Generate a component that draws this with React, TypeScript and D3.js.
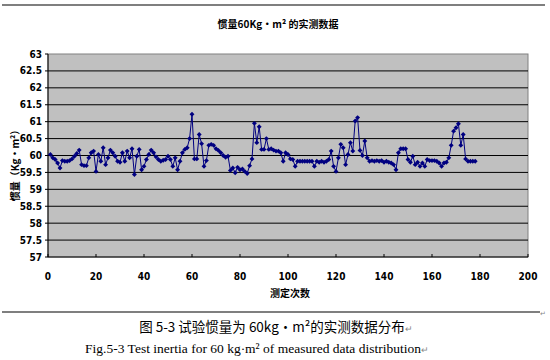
import React from "react";
import * as d3 from "d3";

// measured inertia, runs 1..178
const runs1 = [60.03, 59.93, 59.88, 59.78, 59.63, 59.85, 59.83, 59.83, 59.85, 59.9, 59.98, 60.06, 60.16, 59.73, 59.7, 59.7, 59.93, 60.08, 60.13, 59.53, 60.03, 59.83, 60.23, 59.73, 59.93, 60.16, 60.08, 59.98, 59.83, 59.8, 60.08, 59.83, 60.13, 59.93, 60.2, 59.44, 59.98, 60.18, 59.58, 59.68, 59.88, 60.03, 60.16, 60.08, 59.96, 59.88, 59.83, 59.86];
const runs2 = [59.88, 59.98, 59.88, 59.68, 59.93, 59.58, 59.83, 60.08, 60.18, 60.23, 60.5, 61.22, 59.9, 59.9, 60.62, 60.35, 59.68, 59.85, 60.3, 60.33, 60.3, 60.2, 60.15, 60.08, 60.0, 59.95, 59.98, 59.56, 59.63, 59.49, 59.65, 59.58, 59.6, 59.53, 59.47, 59.7, 59.9, 60.95, 60.38, 60.85, 60.18, 60.18, 60.5, 60.18, 60.2, 60.16, 60.13, 60.13, 60.08, 59.83, 60.08, 60.03];
const runs3 = [59.9, 59.88, 59.68, 59.83, 59.83, 59.83, 59.83, 59.83, 59.83, 59.83, 59.68, 59.83, 59.8, 59.83, 59.8, 59.83, 59.88, 60.13, 59.68, 59.53, 59.93, 60.33, 60.23, 59.73, 60.03, 60.38, 60.13, 61.02, 61.12, 60.15, 60.0, 60.43, 59.93, 59.83, 59.85, 59.83, 59.85, 59.83, 59.85, 59.8, 59.83, 59.8, 59.78, 59.73, 59.58, 60.08];
const runs4 = [60.2, 60.2, 60.2, 59.88, 59.8, 59.98, 59.73, 59.8, 59.68, 59.78, 59.68, 59.88, 59.85, 59.85, 59.85, 59.83, 59.78, 59.68, 59.78, 59.8, 59.93, 60.3, 60.72, 60.82, 60.94, 60.3, 60.62, 59.9, 59.83, 59.83, 59.83, 59.83];
const values = [...runs1, ...runs2, ...runs3, ...runs4];

const xTicks = [0, 20, 40, 60, 80, 100, 120, 140, 160, 180, 200];
const yTicks = [57, 57.5, 58, 58.5, 59, 59.5, 60, 60.5, 61, 61.5, 62, 62.5, 63];

const title = "惯量60Kg·m² 的实测数据";
const xTitle = "测定次数";
const yTitle = "惯量（Kg·m²）";
const captionCn = "图 5-3 试验惯量为 60kg·m²的实测数据分布";
const captionEn = "Fig.5-3 Test inertia for 60 kg·m² of measured data distribution";

const W = 550;
const H = 360;
const m = { left: 48, right: 22, top: 54, bottom: 103 };

export default function App() {
  const x = d3.scaleLinear().domain([0, 200]).range([m.left, W - m.right]);
  const y = d3.scaleLinear().domain([57, 63]).range([H - m.bottom, m.top]);
  const pts = values.map((v, i) => [i + 1, v] as [number, number]);
  const line = d3
    .line<[number, number]>()
    .x((d) => x(d[0]))
    .y((d) => y(d[1]));
  const marker = d3.symbol(d3.symbolSquare, 12)() as string;
  const axisFont = "'Liberation Sans Narrow', 'DejaVu Sans Condensed', sans-serif";
  const cnFont = "'Noto Sans CJK SC', sans-serif";

  return (
    <svg
      width={W}
      height={H}
      style={{ position: "absolute", left: 0, top: 0, background: "#fff" }}
    >
      <line x1={2} x2={545} y1={5} y2={5} stroke="#000" strokeWidth={1.2} />
      <text x={278} y={28} textAnchor="middle" fontSize={10} fontWeight="bold" fontFamily={cnFont}>
        {title}
      </text>

      {/* plot area */}
      <rect
        x={x(0)}
        y={y(63)}
        width={x(200) - x(0)}
        height={y(57) - y(63)}
        fill="#c0c0c0"
        stroke="#808080"
      />
      {yTicks.slice(1, -1).map((t) => (
        <line key={t} x1={x(0)} x2={x(200)} y1={y(t)} y2={y(t)} stroke="#000" strokeWidth={1} />
      ))}
      <line x1={x(0)} x2={x(0)} y1={y(63)} y2={y(57)} stroke="#000" />
      <line x1={x(0)} x2={x(200)} y1={y(57)} y2={y(57)} stroke="#000" />
      {xTicks.map((t) => (
        <line key={t} x1={x(t)} x2={x(t)} y1={y(57)} y2={y(57) - 3} stroke="#000" />
      ))}
      {yTicks.map((t) => (
        <g key={t}>
          <line x1={x(0) - 3} x2={x(0)} y1={y(t)} y2={y(t)} stroke="#000" />
          <text
            x={42}
            y={y(t) + 3.5}
            textAnchor="end"
            fontSize={10}
            fontWeight="bold"
            fontFamily={axisFont}
          >
            {t}
          </text>
        </g>
      ))}
      {xTicks.map((t) => (
        <text
          key={t}
          x={x(t)}
          y={280}
          textAnchor="middle"
          fontSize={10}
          fontWeight="bold"
          fontFamily={axisFont}
        >
          {t}
        </text>
      ))}
      <text x={290} y={297} textAnchor="middle" fontSize={10} fontWeight="bold" fontFamily={cnFont}>
        {xTitle}
      </text>
      <text
        transform="translate(19,163) rotate(-90)"
        textAnchor="middle"
        fontSize={10}
        fontWeight="bold"
        fontFamily={cnFont}
      >
        {yTitle}
      </text>

      {/* series */}
      <path d={line(pts) as string} fill="none" stroke="#000080" strokeWidth={1} />
      {pts.map((d, i) => (
        <path
          key={i}
          d={marker}
          transform={`translate(${x(d[0])},${y(d[1])}) rotate(45)`}
          fill="#000080"
        />
      ))}

      <line x1={2} x2={540} y1={312} y2={312} stroke="#000" strokeWidth={1.2} />
      <text x={540} y={316} fontSize={7} fill="#888">↵</text>
      <text x={276} y={332} textAnchor="middle" fontSize={13.5} fontFamily={cnFont}>
        {captionCn}
        <tspan fill="#888" fontSize={9}>↵</tspan>
      </text>
      <text x={257} y={353} textAnchor="middle" fontSize={13.5} fontFamily="'Liberation Serif', serif">
        {captionEn}
        <tspan fill="#888" fontSize={9}>↵</tspan>
      </text>
    </svg>
  );
}
